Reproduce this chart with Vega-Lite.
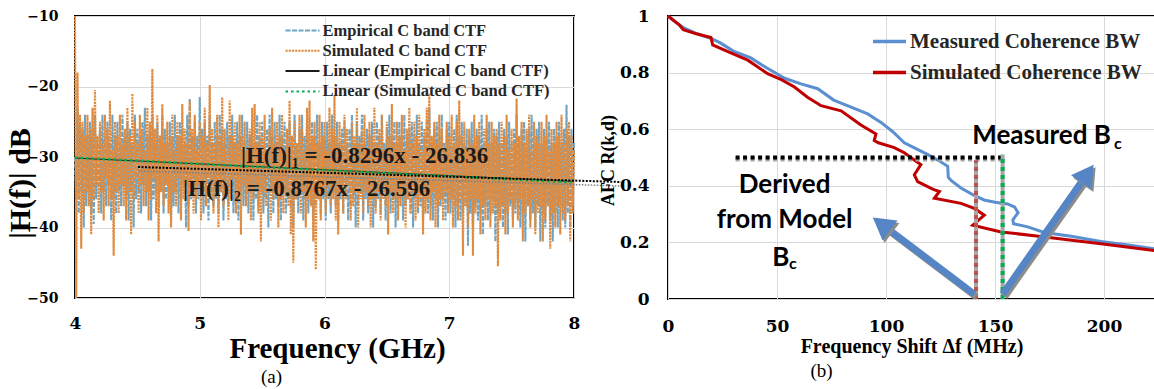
{
 "$schema": "https://vega.github.io/schema/vega-lite/v6.json",
 "background": "white",
 "padding": {"left": 4, "top": 6, "right": 0, "bottom": 0},
 "spacing": 94,
 "bounds": "flush",
 "config": {
  "view": {"stroke": "black", "strokeWidth": 2},
  "axis": {"gridColor": "#d9d9d9", "gridWidth": 1, "domain": false, "ticks": false, "labelColor": "black", "titleColor": "black", "labelFlush": false, "labelOverlap": false}
 },
 "resolve": {"scale": {"color": "independent", "strokeDash": "independent"}, "legend": {"color": "independent", "strokeDash": "independent"}},
 "hconcat": [
  {
   "width": 499, "height": 282,
   "title": {"text": "(a)", "orient": "bottom", "font": "Liberation Serif", "fontSize": 19, "fontWeight": "normal", "color": "black", "dx": -53, "offset": 5},
   "encoding": {
    "x": {"field": "f", "type": "quantitative", "scale": {"domain": [4, 8], "nice": false, "zero": false},
     "axis": {"values": [4, 5, 6, 7, 8], "title": "Frequency (GHz)", "grid": true, "labelFont": "DejaVu Serif", "labelFontSize": 17, "labelFontWeight": "bold", "labelPadding": 17, "titleFont": "Liberation Serif", "titleFontSize": 29, "titleFontWeight": "bold", "titlePadding": 3, "titleX": 262}},
    "y": {"field": "v", "type": "quantitative", "scale": {"domain": [-50, -10], "nice": false, "zero": false},
     "axis": {"values": [-50, -40, -30, -20, -10], "title": "|H(f)| dB", "grid": true, "labelFont": "DejaVu Serif", "labelFontSize": 14, "labelFontWeight": "bold", "labelPadding": 17, "titleFont": "Liberation Serif", "titleFontSize": 30, "titleFontWeight": "bold", "titleAngle": 270, "titleX": -55, "titleY": 167, "titleAlign": "center", "titleBaseline": "middle"}}
   },
   "layer": [
    {
     "data": {"values": [
{"f":4,"e":-30,"s":-10},{"f":4.01,"e":-36,"s":-50},{"f":4.02,"e":-23,"s":-18},{"f":4.03,"e":-38,"s":-36},{"f":4.04,"e":-25,"s":-24},{"f":4.05,"e":-35,"s":-43},{"f":4.06,"e":-26,"s":-25},{"f":4.07,"e":-40,"s":-38},{"f":4.08,"e":-24,"s":-27},{"f":4.09,"e":-37,"s":-35},
{"f":4.1,"e":-27,"s":-24},{"f":4.11,"e":-35,"s":-37},{"f":4.12,"e":-25,"s":-26},{"f":4.13,"e":-38,"s":-41},{"f":4.14,"e":-26,"s":-23},{"f":4.15,"e":-39.5,"s":-36},{"f":4.16,"e":-24,"s":-20.5},{"f":4.17,"e":-36,"s":-34},{"f":4.18,"e":-28,"s":-27},{"f":4.19,"e":-34,"s":-38},
{"f":4.2,"e":-26,"s":-25},{"f":4.21,"e":-38,"s":-35},{"f":4.22,"e":-24,"s":-28},{"f":4.23,"e":-35,"s":-39},{"f":4.24,"e":-27,"s":-24},{"f":4.25,"e":-37,"s":-33},{"f":4.26,"e":-25,"s":-26},{"f":4.27,"e":-34,"s":-37},{"f":4.28,"e":-28,"s":-22},{"f":4.29,"e":-39,"s":-36},
{"f":4.3,"e":-24,"s":-29},{"f":4.31,"e":-36,"s":-44},{"f":4.32,"e":-27,"s":-25},{"f":4.33,"e":-38,"s":-35},{"f":4.34,"e":-25,"s":-27},{"f":4.35,"e":-35,"s":-38},{"f":4.36,"e":-28,"s":-24},{"f":4.37,"e":-37,"s":-34},{"f":4.38,"e":-24,"s":-28},{"f":4.39,"e":-34,"s":-37},
{"f":4.4,"e":-27,"s":-26},{"f":4.41,"e":-36,"s":-39},{"f":4.42,"e":-25,"s":-23},{"f":4.43,"e":-39,"s":-35},{"f":4.44,"e":-26,"s":-27},{"f":4.45,"e":-35,"s":-41},{"f":4.46,"e":-28,"s":-21},{"f":4.47,"e":-40,"s":-36},{"f":4.48,"e":-24,"s":-25},{"f":4.49,"e":-36,"s":-33},
{"f":4.5,"e":-26,"s":-28},{"f":4.51,"e":-35,"s":-38},{"f":4.52,"e":-27,"s":-24},{"f":4.53,"e":-38,"s":-34},{"f":4.54,"e":-25,"s":-26},{"f":4.55,"e":-34,"s":-37},{"f":4.56,"e":-23,"s":-29},{"f":4.57,"e":-37,"s":-35},{"f":4.58,"e":-27,"s":-23},{"f":4.59,"e":-35,"s":-39},
{"f":4.6,"e":-26,"s":-25},{"f":4.61,"e":-39,"s":-36},{"f":4.62,"e":-24,"s":-17.5},{"f":4.63,"e":-36,"s":-33},{"f":4.64,"e":-28,"s":-26},{"f":4.65,"e":-35,"s":-38},{"f":4.66,"e":-25,"s":-24},{"f":4.67,"e":-37,"s":-42},{"f":4.68,"e":-27,"s":-27},{"f":4.69,"e":-34,"s":-35},
{"f":4.7,"e":-24,"s":-22.5},{"f":4.71,"e":-38,"s":-37},{"f":4.72,"e":-26,"s":-28},{"f":4.73,"e":-36,"s":-34},{"f":4.74,"e":-28,"s":-25},{"f":4.75,"e":-35,"s":-38},{"f":4.76,"e":-25,"s":-27},{"f":4.77,"e":-39,"s":-40},{"f":4.78,"e":-27,"s":-24},{"f":4.79,"e":-37,"s":-35},
{"f":4.8,"e":-24,"s":-29},{"f":4.81,"e":-35,"s":-37},{"f":4.82,"e":-27,"s":-25},{"f":4.83,"e":-38,"s":-33},{"f":4.84,"e":-25,"s":-27},{"f":4.85,"e":-36,"s":-39},{"f":4.86,"e":-26,"s":-22.5},{"f":4.87,"e":-34,"s":-36},{"f":4.88,"e":-28,"s":-26},{"f":4.89,"e":-40,"s":-34},
{"f":4.9,"e":-24,"s":-28},{"f":4.91,"e":-37,"s":-40.5},{"f":4.92,"e":-21.7,"s":-22},{"f":4.93,"e":-36,"s":-35},{"f":4.94,"e":-27,"s":-26},{"f":4.95,"e":-35,"s":-38},{"f":4.96,"e":-25,"s":-24},{"f":4.97,"e":-38,"s":-36},{"f":4.98,"e":-27,"s":-29},{"f":4.99,"e":-36,"s":-34},
{"f":5,"e":-21.5,"s":-25},{"f":5.01,"e":-35,"s":-39},{"f":5.02,"e":-26,"s":-27},{"f":5.03,"e":-38,"s":-35},{"f":5.04,"e":-25,"s":-23},{"f":5.05,"e":-36,"s":-37},{"f":5.06,"e":-27,"s":-28},{"f":5.07,"e":-39,"s":-33},{"f":5.08,"e":-24,"s":-19.8},{"f":5.09,"e":-35,"s":-36},
{"f":5.1,"e":-28,"s":-26},{"f":5.11,"e":-37,"s":-38},{"f":5.12,"e":-25,"s":-28},{"f":5.13,"e":-36,"s":-34},{"f":5.14,"e":-27,"s":-24},{"f":5.15,"e":-38,"s":-40},{"f":5.16,"e":-24,"s":-27},{"f":5.17,"e":-35,"s":-35},{"f":5.18,"e":-26,"s":-21.5},{"f":5.19,"e":-39,"s":-37},
{"f":5.2,"e":-28,"s":-26},{"f":5.21,"e":-36,"s":-34},{"f":5.22,"e":-25,"s":-29},{"f":5.23,"e":-37,"s":-39},{"f":5.24,"e":-27,"s":-22},{"f":5.25,"e":-35,"s":-36},{"f":5.26,"e":-24,"s":-27},{"f":5.27,"e":-38,"s":-33},{"f":5.28,"e":-28,"s":-25},{"f":5.29,"e":-36,"s":-38},
{"f":5.3,"e":-25,"s":-28},{"f":5.31,"e":-39,"s":-36},{"f":5.32,"e":-27,"s":-24},{"f":5.33,"e":-35,"s":-41},{"f":5.34,"e":-24,"s":-27},{"f":5.35,"e":-37,"s":-34},{"f":5.36,"e":-28,"s":-25},{"f":5.37,"e":-36,"s":-37},{"f":5.38,"e":-25,"s":-29},{"f":5.39,"e":-38,"s":-35},
{"f":5.4,"e":-27,"s":-26},{"f":5.41,"e":-35,"s":-39},{"f":5.42,"e":-25,"s":-23},{"f":5.43,"e":-39,"s":-36},{"f":5.44,"e":-28,"s":-22.5},{"f":5.45,"e":-36,"s":-34},{"f":5.46,"e":-24,"s":-28},{"f":5.47,"e":-37,"s":-38},{"f":5.48,"e":-27,"s":-25},{"f":5.49,"e":-35,"s":-42},
{"f":5.5,"e":-25,"s":-27},{"f":5.51,"e":-38,"s":-35},{"f":5.52,"e":-28,"s":-24},{"f":5.53,"e":-36,"s":-37},{"f":5.54,"e":-26,"s":-29},{"f":5.55,"e":-40,"s":-33},{"f":5.56,"e":-24,"s":-26},{"f":5.57,"e":-35,"s":-39},{"f":5.58,"e":-27,"s":-23},{"f":5.59,"e":-38,"s":-36},
{"f":5.6,"e":-25,"s":-28},{"f":5.61,"e":-36,"s":-34},{"f":5.62,"e":-28,"s":-25},{"f":5.63,"e":-37,"s":-40},{"f":5.64,"e":-24,"s":-27},{"f":5.65,"e":-39,"s":-36},{"f":5.66,"e":-27,"s":-24},{"f":5.67,"e":-35,"s":-38},{"f":5.68,"e":-25,"s":-29},{"f":5.69,"e":-38,"s":-35},
{"f":5.7,"e":-28,"s":-26},{"f":5.71,"e":-36,"s":-37},{"f":5.72,"e":-25,"s":-22},{"f":5.73,"e":-37,"s":-41},{"f":5.74,"e":-27,"s":-27},{"f":5.75,"e":-40,"s":-45},{"f":5.76,"e":-24,"s":-25},{"f":5.77,"e":-36,"s":-36},{"f":5.78,"e":-28,"s":-28},{"f":5.79,"e":-38,"s":-34},
{"f":5.8,"e":-26,"s":-24},{"f":5.81,"e":-35,"s":-38},{"f":5.82,"e":-24,"s":-26},{"f":5.83,"e":-39,"s":-35},{"f":5.84,"e":-27,"s":-29},{"f":5.85,"e":-36,"s":-40},{"f":5.86,"e":-25,"s":-23},{"f":5.87,"e":-38,"s":-36},{"f":5.88,"e":-28,"s":-22},{"f":5.89,"e":-35,"s":-37},
{"f":5.9,"e":-25,"s":-27},{"f":5.91,"e":-39,"s":-42},{"f":5.92,"e":-27,"s":-25},{"f":5.93,"e":-37,"s":-46},{"f":5.94,"e":-24,"s":-28},{"f":5.95,"e":-36,"s":-36},{"f":5.96,"e":-28,"s":-24},{"f":5.97,"e":-38,"s":-39},{"f":5.98,"e":-25,"s":-27},{"f":5.99,"e":-36,"s":-35},
{"f":6,"e":-27,"s":-25},{"f":6.01,"e":-39,"s":-38},{"f":6.02,"e":-25,"s":-29},{"f":6.03,"e":-36,"s":-34},{"f":6.04,"e":-28,"s":-23},{"f":6.05,"e":-38,"s":-37},{"f":6.06,"e":-24,"s":-26},{"f":6.07,"e":-35,"s":-36},{"f":6.08,"e":-27,"s":-21.2},{"f":6.09,"e":-37,"s":-39},
{"f":6.1,"e":-25,"s":-27},{"f":6.11,"e":-39,"s":-41},{"f":6.12,"e":-28,"s":-25},{"f":6.13,"e":-36,"s":-35},{"f":6.14,"e":-26,"s":-28},{"f":6.15,"e":-38,"s":-38},{"f":6.16,"e":-25,"s":-24},{"f":6.17,"e":-35,"s":-36},{"f":6.18,"e":-28,"s":-26},{"f":6.19,"e":-39,"s":-34},
{"f":6.2,"e":-26,"s":-29},{"f":6.21,"e":-37,"s":-39},{"f":6.22,"e":-24,"s":-25},{"f":6.23,"e":-36,"s":-37},{"f":6.24,"e":-28,"s":-27},{"f":6.25,"e":-40,"s":-35},{"f":6.26,"e":-25,"s":-23},{"f":6.27,"e":-37,"s":-40},{"f":6.28,"e":-27,"s":-28},{"f":6.29,"e":-35,"s":-36},
{"f":6.3,"e":-24,"s":-26},{"f":6.31,"e":-39,"s":-38},{"f":6.32,"e":-28,"s":-24},{"f":6.33,"e":-36,"s":-35},{"f":6.34,"e":-26,"s":-29},{"f":6.35,"e":-38,"s":-37},{"f":6.36,"e":-27,"s":-25},{"f":6.37,"e":-36,"s":-40},{"f":6.38,"e":-25,"s":-27},{"f":6.39,"e":-40,"s":-36},
{"f":6.4,"e":-28,"s":-23},{"f":6.41,"e":-37,"s":-38},{"f":6.42,"e":-25,"s":-28},{"f":6.43,"e":-36,"s":-35},{"f":6.44,"e":-27,"s":-26},{"f":6.45,"e":-38,"s":-39},{"f":6.46,"e":-24,"s":-24},{"f":6.47,"e":-35,"s":-36},{"f":6.48,"e":-28,"s":-29},{"f":6.49,"e":-39,"s":-37},
{"f":6.5,"e":-26,"s":-25},{"f":6.51,"e":-36,"s":-41},{"f":6.52,"e":-24,"s":-27},{"f":6.53,"e":-38,"s":-35},{"f":6.54,"e":-27,"s":-22.5},{"f":6.55,"e":-36,"s":-38},{"f":6.56,"e":-25,"s":-28},{"f":6.57,"e":-40,"s":-36},{"f":6.58,"e":-28,"s":-25},{"f":6.59,"e":-37,"s":-39},
{"f":6.6,"e":-25,"s":-27},{"f":6.61,"e":-36,"s":-37},{"f":6.62,"e":-27,"s":-24},{"f":6.63,"e":-39,"s":-35},{"f":6.64,"e":-24,"s":-29},{"f":6.65,"e":-37,"s":-40},{"f":6.66,"e":-28,"s":-26},{"f":6.67,"e":-36,"s":-36},{"f":6.68,"e":-26,"s":-23},{"f":6.69,"e":-38,"s":-38},
{"f":6.7,"e":-25,"s":-28},{"f":6.71,"e":-40,"s":-35},{"f":6.72,"e":-27,"s":-25},{"f":6.73,"e":-36,"s":-39},{"f":6.74,"e":-24,"s":-27},{"f":6.75,"e":-38,"s":-37},{"f":6.76,"e":-28,"s":-24},{"f":6.77,"e":-37,"s":-36},{"f":6.78,"e":-25,"s":-29},{"f":6.79,"e":-39,"s":-41},
{"f":6.8,"e":-27,"s":-26},{"f":6.81,"e":-36,"s":-38},{"f":6.82,"e":-25,"s":-23},{"f":6.83,"e":-38,"s":-36},{"f":6.84,"e":-23,"s":-21},{"f":6.85,"e":-37,"s":-39},{"f":6.86,"e":-28,"s":-27},{"f":6.87,"e":-39,"s":-35},{"f":6.88,"e":-26,"s":-25},{"f":6.89,"e":-36,"s":-40},
{"f":6.9,"e":-25,"s":-28},{"f":6.91,"e":-40,"s":-37},{"f":6.92,"e":-27,"s":-24},{"f":6.93,"e":-37,"s":-36},{"f":6.94,"e":-24,"s":-26},{"f":6.95,"e":-36,"s":-39},{"f":6.96,"e":-28,"s":-29},{"f":6.97,"e":-39,"s":-35},{"f":6.98,"e":-26,"s":-25},{"f":6.99,"e":-37,"s":-38},
{"f":7,"e":-25,"s":-27},{"f":7.01,"e":-38,"s":-36},{"f":7.02,"e":-28,"s":-24},{"f":7.03,"e":-36,"s":-40},{"f":7.04,"e":-26,"s":-28},{"f":7.05,"e":-40,"s":-37},{"f":7.06,"e":-24,"s":-25},{"f":7.07,"e":-37,"s":-39},{"f":7.08,"e":-27,"s":-22},{"f":7.09,"e":-39,"s":-36},
{"f":7.1,"e":-25,"s":-27},{"f":7.11,"e":-38,"s":-44},{"f":7.12,"e":-28,"s":-25},{"f":7.13,"e":-37,"s":-37},{"f":7.14,"e":-26,"s":-29},{"f":7.15,"e":-42.6,"s":-40},{"f":7.16,"e":-27,"s":-26},{"f":7.17,"e":-38,"s":-36},{"f":7.18,"e":-25,"s":-28},{"f":7.19,"e":-40,"s":-44},
{"f":7.2,"e":-28,"s":-24},{"f":7.21,"e":-37,"s":-38},{"f":7.22,"e":-26,"s":-27},{"f":7.23,"e":-39,"s":-36},{"f":7.24,"e":-27,"s":-25},{"f":7.25,"e":-38,"s":-41},{"f":7.26,"e":-24,"s":-29},{"f":7.27,"e":-41,"s":-37},{"f":7.28,"e":-28,"s":-26},{"f":7.29,"e":-37,"s":-39},
{"f":7.3,"e":-26,"s":-24},{"f":7.31,"e":-39,"s":-36},{"f":7.32,"e":-25,"s":-28},{"f":7.33,"e":-38,"s":-40},{"f":7.34,"e":-28,"s":-25},{"f":7.35,"e":-36,"s":-38},{"f":7.36,"e":-26,"s":-27},{"f":7.37,"e":-42,"s":-37},{"f":7.38,"e":-27,"s":-26},{"f":7.39,"e":-38,"s":-45.5},
{"f":7.4,"e":-25,"s":-28},{"f":7.41,"e":-37,"s":-39},{"f":7.42,"e":-28,"s":-25},{"f":7.43,"e":-40,"s":-37},{"f":7.44,"e":-26,"s":-27},{"f":7.45,"e":-38,"s":-41},{"f":7.46,"e":-27,"s":-24},{"f":7.47,"e":-41,"s":-38},{"f":7.48,"e":-25,"s":-29},{"f":7.49,"e":-37,"s":-36},
{"f":7.5,"e":-28,"s":-26},{"f":7.51,"e":-39,"s":-40},{"f":7.52,"e":-26,"s":-28},{"f":7.53,"e":-38,"s":-37},{"f":7.54,"e":-24,"s":-21.7},{"f":7.55,"e":-37,"s":-39},{"f":7.56,"e":-28,"s":-27},{"f":7.57,"e":-40,"s":-36},{"f":7.58,"e":-26,"s":-25},{"f":7.59,"e":-38,"s":-42},
{"f":7.6,"e":-25,"s":-28},{"f":7.61,"e":-42,"s":-38},{"f":7.62,"e":-28,"s":-26},{"f":7.63,"e":-37,"s":-37},{"f":7.64,"e":-26,"s":-24},{"f":7.65,"e":-39,"s":-40},{"f":7.66,"e":-24,"s":-29},{"f":7.67,"e":-38,"s":-36},{"f":7.68,"e":-28,"s":-25},{"f":7.69,"e":-40,"s":-41},
{"f":7.7,"e":-26,"s":-27},{"f":7.71,"e":-37,"s":-38},{"f":7.72,"e":-25,"s":-28},{"f":7.73,"e":-42,"s":-37},{"f":7.74,"e":-28,"s":-25},{"f":7.75,"e":-38,"s":-42},{"f":7.76,"e":-26,"s":-27},{"f":7.77,"e":-40,"s":-39},{"f":7.78,"e":-27,"s":-24},{"f":7.79,"e":-37,"s":-37},
{"f":7.8,"e":-25,"s":-29},{"f":7.81,"e":-39,"s":-43},{"f":7.82,"e":-28,"s":-26},{"f":7.83,"e":-42,"s":-38},{"f":7.84,"e":-26,"s":-28},{"f":7.85,"e":-38,"s":-40},{"f":7.86,"e":-27,"s":-25},{"f":7.87,"e":-40,"s":-37},{"f":7.88,"e":-25,"s":-27},{"f":7.89,"e":-37,"s":-41},
{"f":7.9,"e":-28,"s":-24},{"f":7.91,"e":-39,"s":-38},{"f":7.92,"e":-26,"s":-28},{"f":7.93,"e":-40,"s":-39},{"f":7.94,"e":-22.6,"s":-26},{"f":7.95,"e":-38,"s":-37},{"f":7.96,"e":-27,"s":-25},{"f":7.97,"e":-40,"s":-42},{"f":7.98,"e":-26,"s":-27},{"f":7.99,"e":-37,"s":-38},
{"f":8,"e":-28,"s":-29}
     ]},
     "transform": [{"fold": ["e", "s"], "as": ["k", "v"]}],
     "mark": {"type": "line", "strokeWidth": 2.1},
     "encoding": {
      "color": {"field": "k", "type": "nominal", "scale": {"domain": ["e", "s", "le", "ls"], "range": ["#6fa5c4", "#e08a3e", "#1a1a1a", "#00b050"]},
       "legend": {"title": null, "orient": "none", "legendX": 209.5, "legendY": 5, "padding": 0, "labelFont": "Liberation Serif", "labelFontSize": 16.5, "labelFontWeight": "bold", "labelColor": "#262626", "labelOffset": 19, "labelLimit": 400, "symbolType": "M-1,0H3", "symbolSize": 289, "symbolStrokeWidth": 2, "rowPadding": 2.3, "labelExpr": "datum.label == 'e' ? 'Empirical C band CTF' : datum.label == 's' ? 'Simulated C band CTF' : datum.label == 'le' ? 'Linear (Empirical C band CTF)' : 'Linear (Simulated C band CTF)'"}},
      "strokeDash": {"field": "k", "type": "nominal", "scale": {"domain": ["e", "s", "le", "ls"], "range": [[5, 1.5], [2.2, 1], [1, 0], [2.5, 3]]},
       "legend": {"title": null, "orient": "none", "legendX": 209.5, "legendY": 5, "padding": 0, "labelFont": "Liberation Serif", "labelFontSize": 16.5, "labelFontWeight": "bold", "labelColor": "#262626", "labelOffset": 19, "labelLimit": 400, "symbolType": "M-1,0H3", "symbolSize": 289, "symbolStrokeWidth": 2, "rowPadding": 2.3, "labelExpr": "datum.label == 'e' ? 'Empirical C band CTF' : datum.label == 's' ? 'Simulated C band CTF' : datum.label == 'le' ? 'Linear (Empirical C band CTF)' : 'Linear (Simulated C band CTF)'"}}
     }
    },
    {
     "data": {"values": [{"f": 4, "v": -30.15, "k": "le"}, {"f": 8, "v": -33.47, "k": "le"}]},
     "mark": {"type": "line", "strokeWidth": 1},
     "encoding": {
      "color": {"field": "k", "type": "nominal", "scale": {"domain": ["e", "s", "le", "ls"], "range": ["#6fa5c4", "#e08a3e", "#1a1a1a", "#00b050"]}},
      "strokeDash": {"field": "k", "type": "nominal", "scale": {"domain": ["e", "s", "le", "ls"], "range": [[5, 1.5], [2.2, 1], [1, 0], [2.5, 3]]}}
     }
    },
    {
     "data": {"values": [{"f": 4, "v": -30.1, "k": "ls"}, {"f": 8, "v": -33.61, "k": "ls"}]},
     "mark": {"type": "line", "strokeWidth": 2.5},
     "encoding": {
      "color": {"field": "k", "type": "nominal", "scale": {"domain": ["e", "s", "le", "ls"], "range": ["#6fa5c4", "#e08a3e", "#1a1a1a", "#00b050"]}},
      "strokeDash": {"field": "k", "type": "nominal", "scale": {"domain": ["e", "s", "le", "ls"], "range": [[5, 1.5], [2.2, 1], [1, 0], [2.5, 3]]}}
     }
    },
    {
     "data": {"values": [{"f": 4.505, "v": -31.99}, {"f": 8.377, "v": -34.12}]},
     "mark": {"type": "line", "color": "#7f7f7f", "strokeWidth": 1.5, "strokeDash": [1.5, 1.5]},
     "encoding": {}
    },
    {
     "data": {"values": [{"f": 4.505, "v": -31.42}, {"f": 8.377, "v": -33.55}]},
     "mark": {"type": "line", "color": "black", "strokeWidth": 2, "strokeDash": [2, 1.5]},
     "encoding": {}
    },
    {
     "data": {"values": [{"f": 5.33, "v": -30.85, "t": "|H(f)|₁ = -0.8296x - 26.836"}, {"f": 4.866, "v": -35.53, "t": "|H(f)|₂ = -0.8767x - 26.596"}]},
     "mark": {"type": "text", "align": "left", "baseline": "alphabetic", "font": "Liberation Serif", "fontSize": 23, "fontWeight": "bold", "color": "#1a1a1a"},
     "encoding": {"text": {"field": "t"}}
    }
   ]
  },
  {
   "width": 487, "height": 283,
   "title": {"text": "(b)", "orient": "bottom", "font": "Liberation Serif", "fontSize": 19, "fontWeight": "normal", "color": "black", "dx": -90, "offset": 6},
   "encoding": {
    "x": {"field": "d", "type": "quantitative", "scale": {"domain": [0, 223.4], "nice": false, "zero": false},
     "axis": {"values": [0, 50, 100, 150, 200], "title": "Frequency Shift Δf (MHz)", "grid": true, "labelFont": "DejaVu Serif", "labelFontSize": 17, "labelFontWeight": "bold", "labelPadding": 19, "titleFont": "Liberation Serif", "titleFontSize": 20, "titleFontWeight": "bold", "titlePadding": 2}},
    "y": {"field": "r", "type": "quantitative", "scale": {"domain": [0, 1], "nice": false, "zero": false},
     "axis": {"values": [0, 0.2, 0.4, 0.6, 0.8, 1], "format": "~g", "title": "AFC  R(k,d)", "grid": true, "labelFont": "DejaVu Serif", "labelFontSize": 17, "labelFontWeight": "bold", "labelPadding": 19, "titleFont": "Liberation Serif", "titleFontSize": 18, "titleFontWeight": "bold", "titleAngle": 270, "titleX": -60, "titleY": 144, "titleAlign": "center", "titleBaseline": "middle"}}
   },
   "layer": [
    {
     "data": {"values": [
{"i":1,"c":"M","d":0,"r":1},{"i":2,"c":"M","d":4,"r":0.975},{"i":3,"c":"M","d":8,"r":0.955},{"i":4,"c":"M","d":14,"r":0.935},{"i":5,"c":"M","d":20,"r":0.92},{"i":6,"c":"M","d":24,"r":0.905},{"i":7,"c":"M","d":30,"r":0.876},{"i":8,"c":"M","d":38,"r":0.852},{"i":9,"c":"M","d":45,"r":0.818},{"i":10,"c":"M","d":53.5,"r":0.78},
{"i":11,"c":"M","d":61,"r":0.76},{"i":12,"c":"M","d":68.7,"r":0.743},{"i":13,"c":"M","d":76,"r":0.703},{"i":14,"c":"M","d":84,"r":0.678},{"i":15,"c":"M","d":91.6,"r":0.654},{"i":16,"c":"M","d":97.7,"r":0.624},{"i":17,"c":"M","d":103,"r":0.592},{"i":18,"c":"M","d":108.4,"r":0.552},{"i":19,"c":"M","d":113.5,"r":0.532},{"i":20,"c":"M","d":119,"r":0.511},
{"i":21,"c":"M","d":124,"r":0.49},{"i":22,"c":"M","d":128.3,"r":0.469},{"i":23,"c":"M","d":128.6,"r":0.43},{"i":24,"c":"M","d":130,"r":0.418},{"i":25,"c":"M","d":134.4,"r":0.392},{"i":26,"c":"M","d":140,"r":0.368},{"i":27,"c":"M","d":145,"r":0.35},{"i":28,"c":"M","d":150,"r":0.342},{"i":29,"c":"M","d":155.8,"r":0.336},{"i":30,"c":"M","d":159,"r":0.325},
{"i":31,"c":"M","d":160.6,"r":0.305},{"i":32,"c":"M","d":158.2,"r":0.28},{"i":33,"c":"M","d":158.5,"r":0.266},{"i":34,"c":"M","d":165,"r":0.255},{"i":35,"c":"M","d":172.6,"r":0.235},{"i":36,"c":"M","d":185,"r":0.222},{"i":37,"c":"M","d":198.6,"r":0.203},{"i":38,"c":"M","d":212,"r":0.19},{"i":39,"c":"M","d":223.4,"r":0.177},
{"i":1,"c":"S","d":0,"r":1},{"i":2,"c":"S","d":5,"r":0.97},{"i":3,"c":"S","d":7,"r":0.952},{"i":4,"c":"S","d":13,"r":0.937},{"i":5,"c":"S","d":19.7,"r":0.924},{"i":6,"c":"S","d":20.5,"r":0.898},{"i":7,"c":"S","d":28,"r":0.872},{"i":8,"c":"S","d":36.6,"r":0.844},{"i":9,"c":"S","d":45.7,"r":0.796},{"i":10,"c":"S","d":52,"r":0.775},
{"i":11,"c":"S","d":58,"r":0.749},{"i":12,"c":"S","d":64,"r":0.713},{"i":13,"c":"S","d":70.2,"r":0.683},{"i":14,"c":"S","d":79.4,"r":0.665},{"i":15,"c":"S","d":88.5,"r":0.615},{"i":16,"c":"S","d":95.4,"r":0.583},{"i":17,"c":"S","d":94.6,"r":0.56},{"i":18,"c":"S","d":96.5,"r":0.552},{"i":19,"c":"S","d":103.8,"r":0.535},{"i":20,"c":"S","d":108.4,"r":0.517},
{"i":21,"c":"S","d":113.8,"r":0.487},{"i":22,"c":"S","d":116,"r":0.475},{"i":23,"c":"S","d":113,"r":0.439},{"i":24,"c":"S","d":114.5,"r":0.415},{"i":25,"c":"S","d":121.4,"r":0.388},{"i":26,"c":"S","d":124.5,"r":0.38},{"i":27,"c":"S","d":122.2,"r":0.356},{"i":28,"c":"S","d":134.4,"r":0.338},{"i":29,"c":"S","d":140.5,"r":0.32},{"i":30,"c":"S","d":145.1,"r":0.296},
{"i":31,"c":"S","d":139.8,"r":0.261},{"i":32,"c":"S","d":152.8,"r":0.237},{"i":33,"c":"S","d":171,"r":0.221},{"i":34,"c":"S","d":198.6,"r":0.195},{"i":35,"c":"S","d":223.4,"r":0.171}
     ]},
     "mark": {"type": "line", "strokeWidth": 3},
     "encoding": {
      "order": {"field": "i", "type": "quantitative"},
      "color": {"field": "c", "type": "nominal", "scale": {"domain": ["M", "S"], "range": ["#5b8fd0", "#c00000"]},
       "legend": {"title": null, "orient": "none", "legendX": 203, "legendY": 7, "padding": 0, "labelFont": "Liberation Serif", "labelFontSize": 21, "labelFontWeight": "bold", "labelColor": "#262626", "labelOffset": 2, "labelLimit": 400, "symbolType": "stroke", "symbolSize": 1089, "symbolStrokeWidth": 3.5, "rowPadding": 2, "labelExpr": "datum.label == 'M' ? 'Measured Coherence BW' : 'Simulated Coherence BW'"}}
     }
    },
    {
     "data": {"values": [{"d": 31, "d2": 154, "r": 0.5}]},
     "mark": {"type": "rule", "color": "#a6a6a6", "strokeWidth": 4, "strokeDash": [4, 3.5], "yOffset": 2},
     "encoding": {"x2": {"field": "d2"}}
    },
    {
     "data": {"values": [{"d": 31, "d2": 154, "r": 0.5}]},
     "mark": {"type": "rule", "color": "black", "strokeWidth": 4, "strokeDash": [4, 3.5]},
     "encoding": {"x2": {"field": "d2"}}
    },
    {
     "data": {"values": [{"d": 141.3, "r": 0, "r2": 0.49}, {"d": 153.5, "r": 0, "r2": 0.51}]},
     "mark": {"type": "rule", "color": "#a6a6a6", "strokeWidth": 4},
     "encoding": {"y2": {"field": "r2"}}
    },
    {
     "data": {"values": [{"d": 141.3, "r": 0, "r2": 0.49}]},
     "mark": {"type": "rule", "color": "#c0504d", "strokeWidth": 4, "strokeDash": [4, 4]},
     "encoding": {"y2": {"field": "r2"}}
    },
    {
     "data": {"values": [{"d": 153.5, "r": 0, "r2": 0.51}]},
     "mark": {"type": "rule", "color": "#00b050", "strokeWidth": 4, "strokeDash": [4, 4]},
     "encoding": {"y2": {"field": "r2"}}
    },
    {
     "data": {"values": [{"a": 1, "d": 140.5, "r": 0.017}, {"a": 1, "d": 97.9, "r": 0.265}, {"a": 2, "d": 153.5, "r": 0.017}, {"a": 2, "d": 192.4, "r": 0.443}]},
     "mark": {"type": "line", "color": "#8c8c8c", "strokeWidth": 7, "xOffset": 2, "yOffset": 2.5},
     "encoding": {"detail": {"field": "a", "type": "nominal"}}
    },
    {
     "data": {"values": [{"a": 1, "d": 140.5, "r": 0.017}, {"a": 1, "d": 97.9, "r": 0.265}, {"a": 2, "d": 153.5, "r": 0.017}, {"a": 2, "d": 192.4, "r": 0.443}]},
     "mark": {"type": "line", "color": "#5585c5", "strokeWidth": 7},
     "encoding": {"detail": {"field": "a", "type": "nominal"}}
    },
    {
     "data": {"values": [{"d": 97.9, "r": 0.265}]},
     "mark": {"type": "point", "shape": "triangle-up", "filled": true, "size": 620, "angle": 307, "color": "#8c8c8c", "opacity": 1, "xOffset": 2, "yOffset": 2.5},
     "encoding": {}
    },
    {
     "data": {"values": [{"d": 97.9, "r": 0.265}]},
     "mark": {"type": "point", "shape": "triangle-up", "filled": true, "size": 620, "angle": 307, "color": "#5585c5", "opacity": 1},
     "encoding": {}
    },
    {
     "data": {"values": [{"d": 192.4, "r": 0.443}]},
     "mark": {"type": "point", "shape": "triangle-up", "filled": true, "size": 620, "angle": 35, "color": "#8c8c8c", "opacity": 1, "xOffset": 2, "yOffset": 2.5},
     "encoding": {}
    },
    {
     "data": {"values": [{"d": 192.4, "r": 0.443}]},
     "mark": {"type": "point", "shape": "triangle-up", "filled": true, "size": 620, "angle": 35, "color": "#5585c5", "opacity": 1},
     "encoding": {}
    },
    {
     "data": {"values": [{"d": 53.5, "r": 0.375, "t": "Derived"}, {"d": 53.5, "r": 0.25, "t": "from Model"}, {"d": 51.8, "r": 0.118, "t": "B"}]},
     "mark": {"type": "text", "align": "center", "baseline": "alphabetic", "font": "Lato", "fontSize": 26, "fontWeight": "bold", "color": "black"},
     "encoding": {"text": {"field": "t"}}
    },
    {
     "data": {"values": [{"d": 203.2, "r": 0.546, "t": "Measured B"}]},
     "mark": {"type": "text", "align": "right", "baseline": "alphabetic", "font": "Lato", "fontSize": 26, "fontWeight": "bold", "color": "black"},
     "encoding": {"text": {"field": "t"}}
    },
    {
     "data": {"values": [{"d": 55.5, "r": 0.107, "t": "c"}, {"d": 204.6, "r": 0.529, "t": "c"}]},
     "mark": {"type": "text", "align": "left", "baseline": "alphabetic", "font": "Lato", "fontSize": 16, "fontWeight": "bold", "color": "black"},
     "encoding": {"text": {"field": "t"}}
    }
   ]
  }
 ]
}
